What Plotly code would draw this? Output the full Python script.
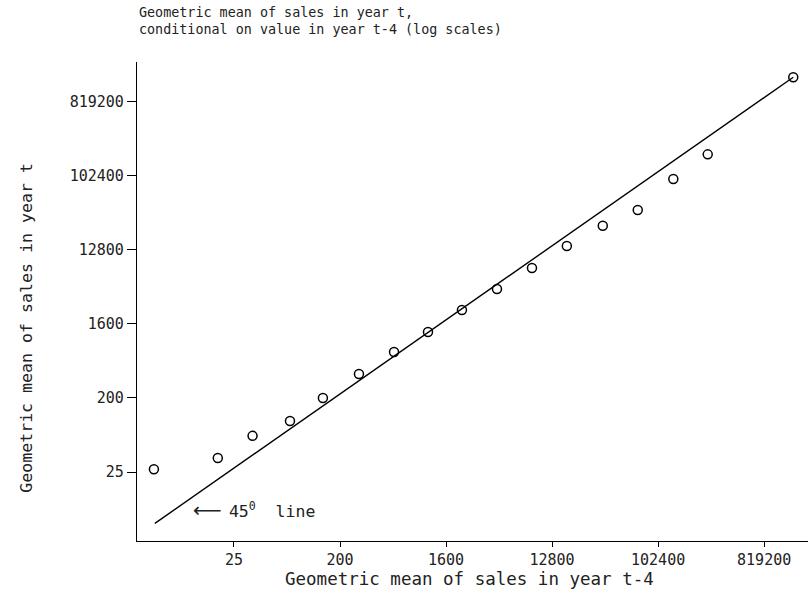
import plotly.graph_objects as go

# Data
sales_t_minus_4 = [5.2, 18.2, 36, 75, 143, 290, 577, 1123, 2185, 4345, 8630,
                   17100, 34600, 68700, 138000, 271000, 1450000]
sales_t = [27, 37, 69, 105, 200, 393, 728, 1277, 2370, 4280, 7710,
           14300, 25300, 39400, 94000, 188000, 1640000]

line_x = [5.3, 1450000]
line_y = [5.9, 1640000]

tick_vals = [25, 200, 1600, 12800, 102400, 819200]
tick_text = ["25", "200", "1600", "12800", "102400", "819200"]

FONT = "DejaVu Sans Mono"

fig = go.Figure()
fig.add_trace(go.Scatter(x=line_x, y=line_y, mode="lines",
                         line=dict(color="black", width=1.4),
                         hoverinfo="skip", showlegend=False))
fig.add_trace(go.Scatter(x=sales_t_minus_4, y=sales_t, mode="markers",
                         marker=dict(symbol="circle-open", size=9,
                                     color="black", line=dict(width=1.5)),
                         showlegend=False))

axis_common = dict(type="log", tickmode="array", tickvals=tick_vals,
                   ticktext=tick_text, ticks="outside",
                   tickwidth=1.2, tickcolor="black", showline=True,
                   linecolor="black", linewidth=1.3, showgrid=False,
                   zeroline=False, mirror=False,
                   tickfont=dict(family=FONT, size=15, color="#222"))

fig.update_xaxes(range=[0.572, 6.287], ticklen=5, **axis_common)
fig.update_yaxes(range=[0.556, 6.401], ticklen=9, **axis_common)

fig.update_layout(
    width=808, height=598,
    margin=dict(l=137, r=0, t=62, b=57),
    paper_bgcolor="white", plot_bgcolor="white",
    font=dict(family=FONT, color="#222"),
    annotations=[
        dict(text="Geometric mean of sales in year t,<br>"
                  "conditional on value in year t-4 (log scales)",
             xref="paper", yref="paper", x=0, y=1, xanchor="left",
             yanchor="bottom", yshift=23, showarrow=False, align="left",
             font=dict(family=FONT, size=13.4, color="#222")),
        dict(text="Geometric mean of sales in year t",
             xref="paper", yref="paper", x=-0.164, y=0.445,
             xanchor="center", yanchor="middle", textangle=-90,
             showarrow=False,
             font=dict(family=FONT, size=16.6, color="#222")),
        dict(text="Geometric mean of sales in year t-4",
             xref="paper", yref="paper", x=0.496, y=-0.08,
             xanchor="center", yanchor="middle", showarrow=False,
             font=dict(family=FONT, size=17.5, color="#222")),
        dict(text="<span style='font-family:DejaVu Sans;font-size:20px'>\u27f5</span>"
                  "<span style='font-size:12px'>&nbsp;</span>"
                  "45<sup>0</sup>&nbsp;&nbsp;line",
             xref="paper", yref="paper", x=0.0805, y=0.0647,
             xanchor="left", yanchor="middle", showarrow=False,
             font=dict(family=FONT, size=16.5, color="#222")),
    ],
)

fig.write_html("out.html")
